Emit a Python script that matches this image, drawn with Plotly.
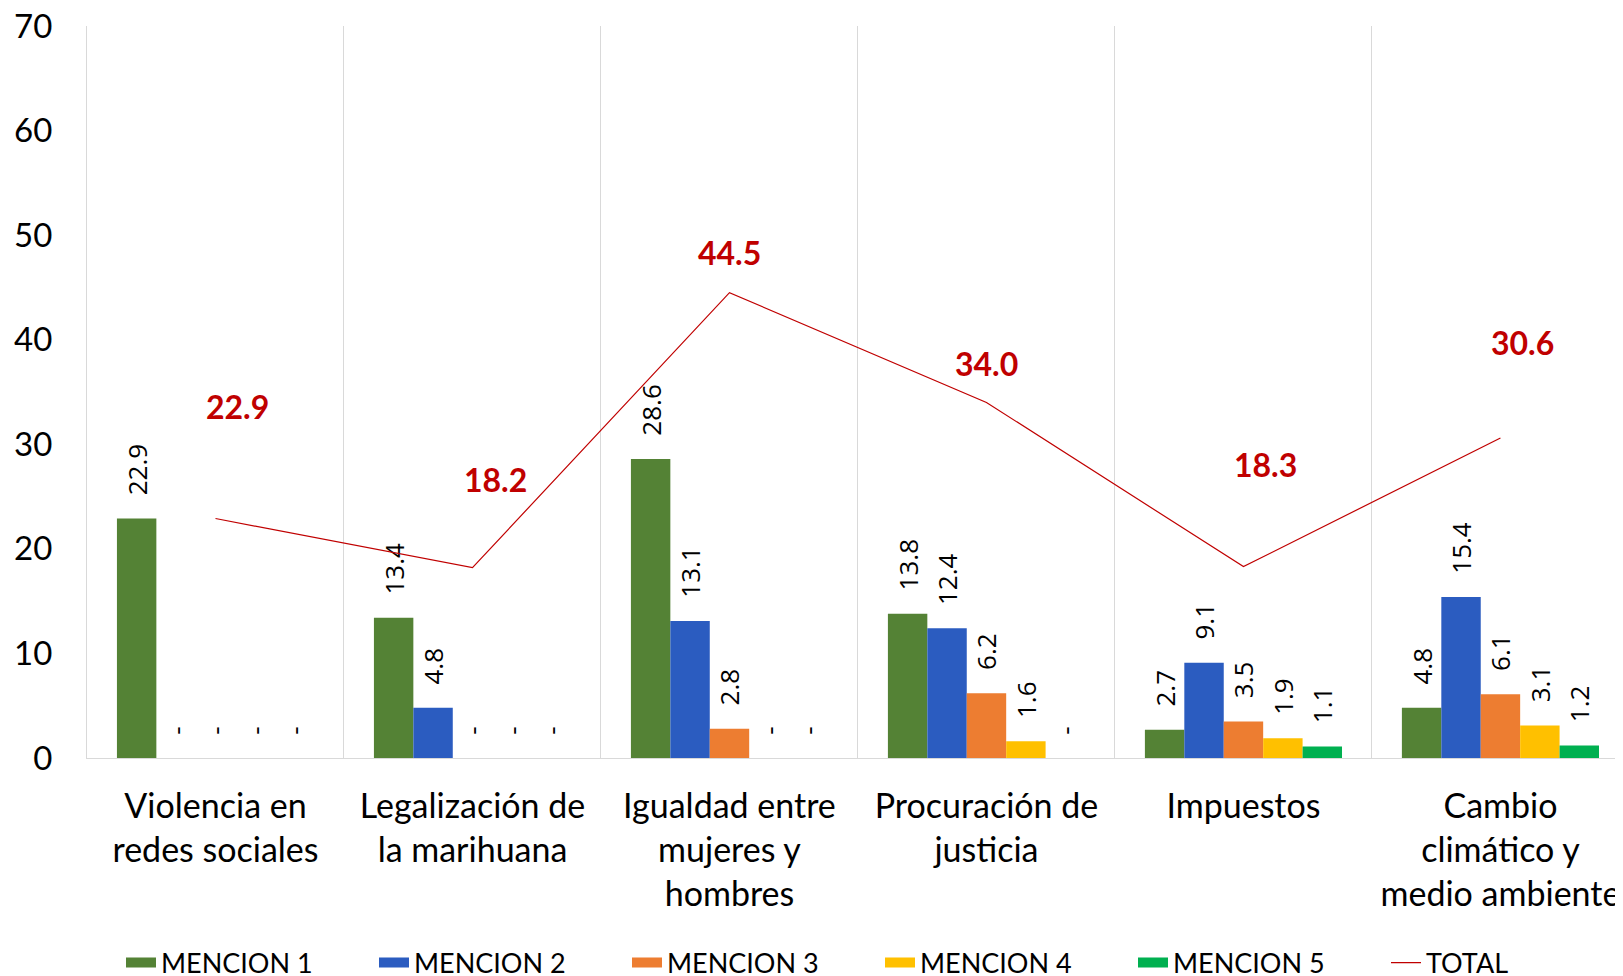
import plotly.graph_objects as go

categories = ["Violencia en<br>redes sociales", "Legalización de<br>la marihuana",
              "Igualdad entre<br>mujeres y<br>hombres", "Procuración de<br>justicia",
              "Impuestos", "Cambio<br>climático y<br>medio ambiente"]
mencion1 = [22.9, 13.4, 28.6, 13.8, 2.7, 4.8]
mencion2 = [0, 4.8, 13.1, 12.4, 9.1, 15.4]
mencion3 = [0, 0, 2.8, 6.2, 3.5, 6.1]
mencion4 = [0, 0, 0, 1.6, 1.9, 3.1]
mencion5 = [0, 0, 0, 0, 1.1, 1.2]
total = [22.9, 18.2, 44.5, 34.0, 18.3, 30.6]
series_names = ["MENCION 1", "MENCION 2", "MENCION 3", "MENCION 4", "MENCION 5"]
y_ticks = [0, 10, 20, 30, 40, 50, 60, 70]

colors = ["#548235", "#2B5CC0", "#ED7D31", "#FFC000", "#00B050"]
label_xshift = [22, 23, 0, 0, 22, 22]
label_yshift = [112, 88, 40, 39, 102, 96]

FONT = "Lato"
PAD = "\u00a0\u00a0\u00a0"

fig = go.Figure()
for name, vals, col in zip(series_names, [mencion1, mencion2, mencion3, mencion4, mencion5], colors):
    txt = [PAD + (f"{v:.1f}" if v else "-") for v in vals]
    fig.add_trace(go.Bar(
        x=categories, y=vals, name=name, marker=dict(color=col, line=dict(width=0)),
        text=txt, textposition="outside", textangle=-90, constraintext="none",
        textfont=dict(family="Open Sans", size=26, color="#000000"),
        cliponaxis=False, showlegend=False,
    ))
    # legend proxy with wide swatch
    fig.add_trace(go.Scatter(x=[None], y=[None], mode="lines", name=name,
                             line=dict(color=col, width=18)))

fig.add_trace(go.Scatter(x=categories, y=total, mode="lines", name="TOTAL",
                         line=dict(color="#C00000", width=1.2)))

for c, v, xs, ys in zip(categories, total, label_xshift, label_yshift):
    fig.add_annotation(x=c, y=v, text=f"<b>{v:.1f}</b>", showarrow=False,
                       xshift=xs, yshift=ys,
                       font=dict(family=FONT, size=32, color="#C00000"))

fig.update_layout(
    width=1623, height=976,
    margin=dict(l=79, r=0, t=18, b=226),
    paper_bgcolor="white", plot_bgcolor="white",
    barmode="group", bargap=0.233, bargroupgap=0,
    font=dict(family=FONT, color="#000000"),
    legend=dict(orientation="h", x=113 / 1623, xref="container", xanchor="left",
                y=21 / 976, yref="container", yanchor="middle",
                font=dict(family=FONT, size=27, color="#000000"),
                itemwidth=30, entrywidth=208, entrywidthmode="pixels",
                traceorder="normal", bgcolor="rgba(0,0,0,0)"),
    xaxis=dict(type="category", tickson="boundaries", showgrid=True,
               gridcolor="#D9D9D9", gridwidth=1, showline=True, linecolor="#D9D9D9",
               linewidth=1, ticks="", tickfont=dict(family=FONT, size=34, color="#000000"),
               ticklabelstandoff=18, range=[-0.5, 5.508], fixedrange=True,
               tickangle=0, automargin=False),
    yaxis=dict(range=[0, 70], tickvals=y_ticks, showgrid=False, zeroline=False,
               showline=True, linecolor="#D9D9D9", linewidth=1,
               ticks="", ticklabelstandoff=27, ticklabeloverflow="allow",
               automargin=False,
               tickfont=dict(family=FONT, size=33, color="#000000")),
)

fig.write_html("out.html")
